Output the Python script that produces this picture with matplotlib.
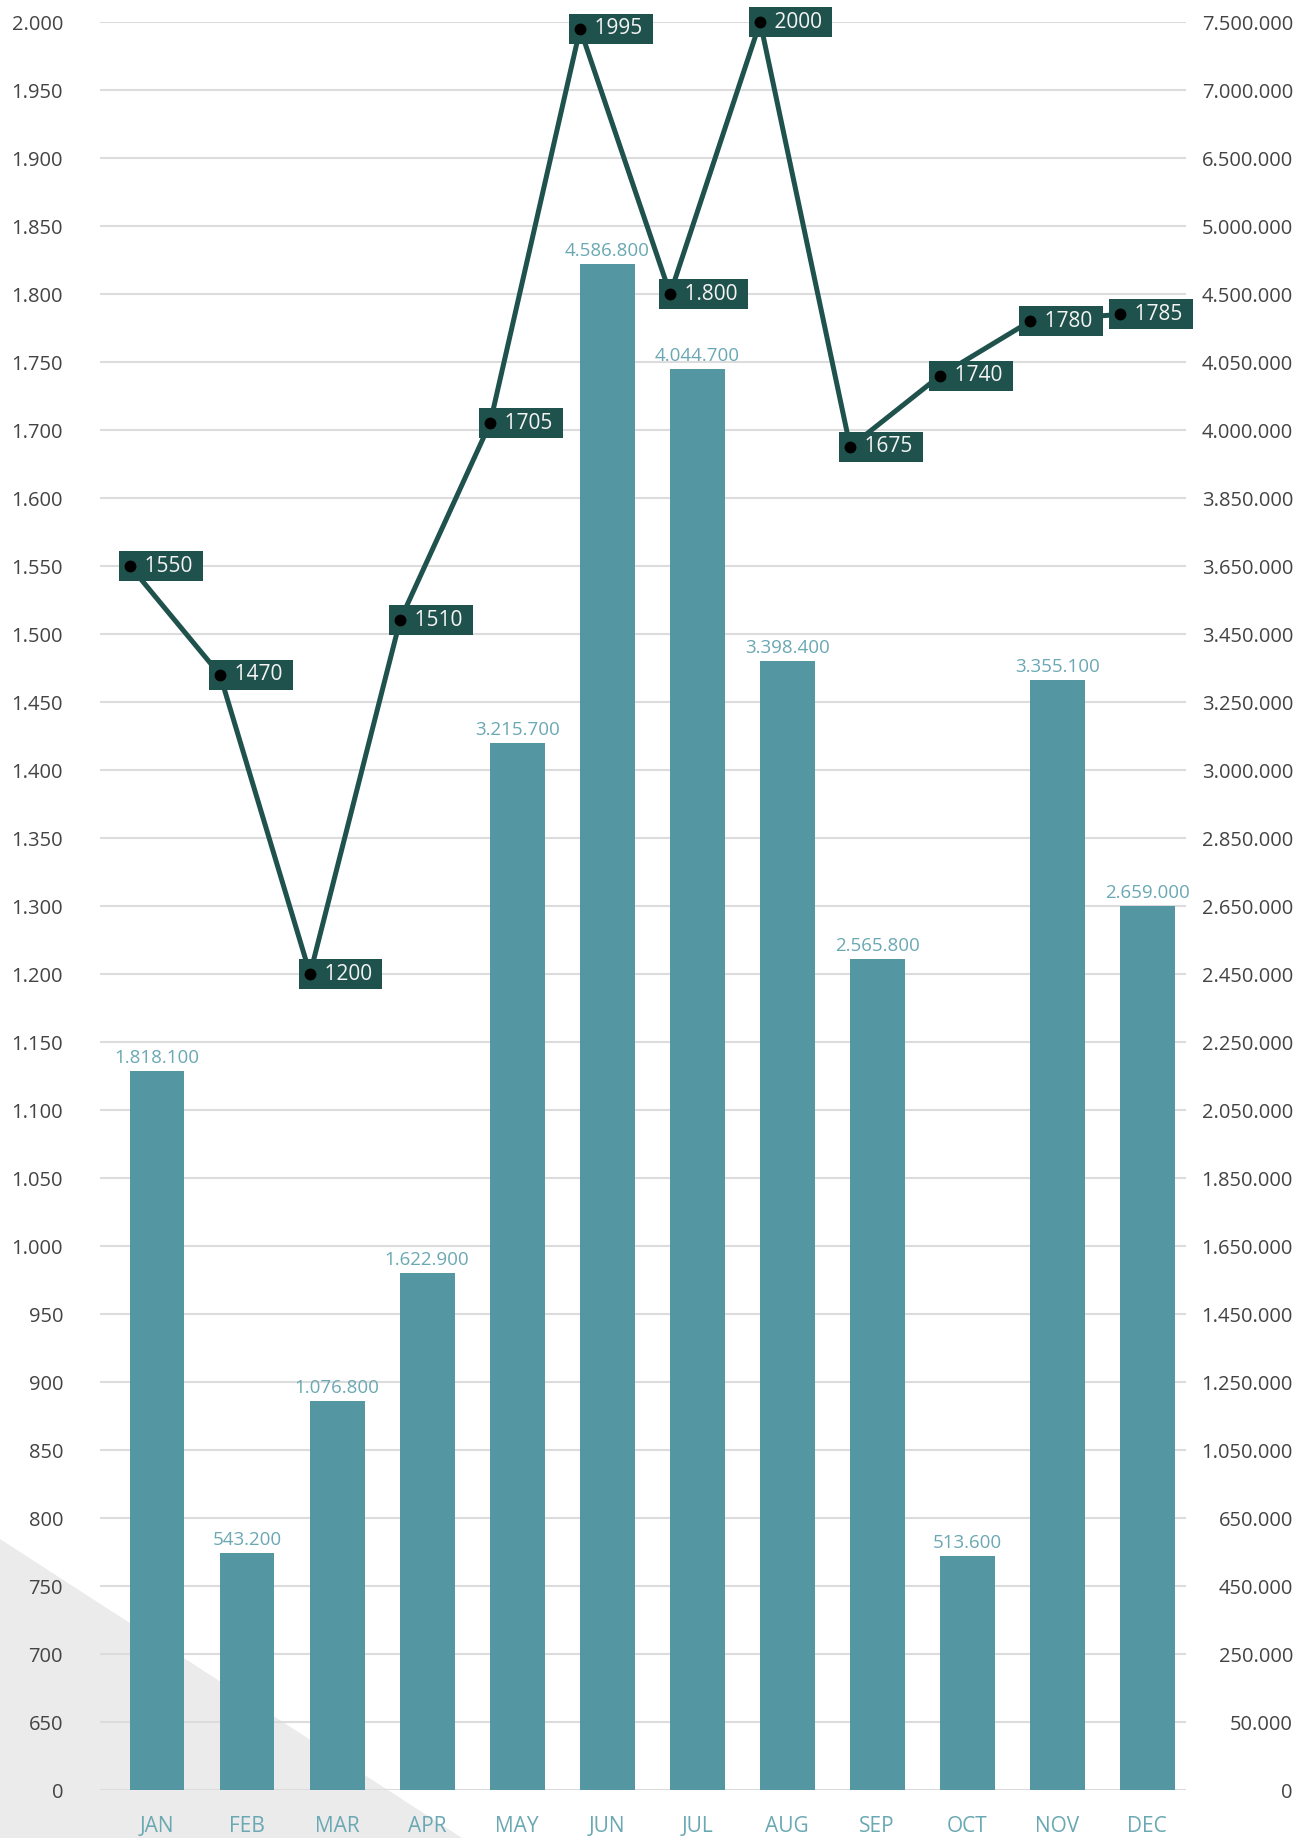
import numpy as np
import matplotlib
matplotlib.use('Agg')
import matplotlib.pyplot as plt
from matplotlib.patches import Polygon

# ── data ──
months = ["JAN", "FEB", "MAR", "APR", "MAY", "JUN",
          "JUL", "AUG", "SEP", "OCT", "NOV", "DEC"]

# line series (left axis)
units = [1550, 1470, 1200, 1510, 1705, 1995, 1800, 2000, 1675, 1740, 1780, 1785]
units_text = ["1550", "1470", "1200", "1510", "1705", "1995",
              "1.800", "2000", "1675", "1740", "1780", "1785"]

# bar series (right axis): printed values and heights as read on the right axis
revenue_text = ["1.818.100", "543.200", "1.076.800", "1.622.900", "3.215.700", "4.586.800",
                "4.044.700", "3.398.400", "2.565.800", "513.600", "3.355.100", "2.659.000"]
revenue_height = [2164000, 548000, 1194000, 1570000, 3100000, 4720000,
                  4045000, 3370000, 2494000, 538000, 3314000, 2650000]

# the two axes use equally spaced rows with these (uneven) tick values
left_ticks = [0, 650, 700, 750, 800, 850, 900, 950, 1000, 1050, 1100, 1150, 1200,
              1300, 1350, 1400, 1450, 1500, 1550, 1600, 1700, 1750, 1800, 1850,
              1900, 1950, 2000]
right_ticks = [0, 50000, 250000, 450000, 650000, 1050000, 1250000, 1450000, 1650000,
               1850000, 2050000, 2250000, 2450000, 2650000, 2850000, 3000000, 3250000,
               3450000, 3650000, 3850000, 4000000, 4050000, 4500000, 5000000,
               6500000, 7000000, 7500000]

# ── colours ──
BAR = '#5497a2'
BAR_TXT = '#6aa8b3'
LINE = '#1f524c'
TICK = '#444444'
GRID = '#dcdcdc'


def dotted(v):
    return f"{v:,}".replace(",", ".")


def row_scale(ticks):
    """piecewise-linear scale: every tick gets its own equally spaced row"""
    t = np.asarray(ticks, dtype=float)
    rows = np.arange(len(t), dtype=float)
    return (lambda v: np.interp(v, t, rows), lambda r: np.interp(r, rows, t))


plt.rcParams['font.family'] = ['Open Sans', 'DejaVu Sans']

fig = plt.figure(figsize=(13.08, 18.38), dpi=100)

# grey triangle in the lower-left corner
fig.add_artist(Polygon([[0, 0.1627], [0, 0], [0.3532, 0]], closed=True,
                       transform=fig.transFigure, facecolor='#ebebeb',
                       edgecolor='none', zorder=-1))

ax = fig.add_axes([100 / 1308, 48 / 1838, 1086 / 1308, 1768 / 1838])
axl = ax.twinx()
ax.patch.set_visible(False)

x = np.arange(len(months))

# ── bars (right axis) ──
ax.set_yscale('function', functions=row_scale(right_ticks))
ax.set_ylim(0, 7500000)
ax.set_xlim(-0.633, 11.43)
ax.bar(x, revenue_height, width=0.61, color=BAR, zorder=2)
for xi, h, t in zip(x, revenue_height, revenue_text):
    ax.annotate(t, (xi, h), xytext=(0, 3), textcoords='offset points',
                ha='center', va='bottom', fontsize=13.5, color=BAR_TXT, zorder=3)

ax.yaxis.tick_right()
ax.set_yticks(right_ticks, [dotted(v) for v in right_ticks], ha='right')
ax.tick_params(axis='y', length=0, pad=77, labelsize=14.5, labelcolor=TICK)
ax.set_xticks(x, months)
ax.tick_params(axis='x', length=0, pad=19, labelsize=15, labelcolor=BAR_TXT)
ax.grid(axis='y', color=GRID, linewidth=1.5)
ax.set_axisbelow(True)

# ── line (left axis) ──
axl.set_yscale('function', functions=row_scale(left_ticks))
axl.set_ylim(0, 2000)
axl.yaxis.tick_left()
axl.set_yticks(left_ticks, [dotted(v) for v in left_ticks])
axl.tick_params(axis='y', length=0, pad=26.6, labelsize=14.5, labelcolor=TICK)

lx = x - 0.3
axl.plot(lx, units, color=LINE, linewidth=3.6, zorder=3, clip_on=False)
axl.plot(lx, units, 'o', color='black', markersize=7.5, zorder=6, clip_on=False)
for xi, v, t in zip(lx, units, units_text):
    axl.annotate("    " + t + " ", (xi, v), xytext=(-4.9, 0), textcoords='offset points',
                 ha='left', va='center', fontsize=15, color='#f4f4f4',
                 bbox=dict(boxstyle='square,pad=0.22', facecolor=LINE, edgecolor='none'),
                 zorder=5, annotation_clip=False)

for a in (ax, axl):
    for s in a.spines.values():
        s.set_visible(False)

fig.savefig('out.png', dpi=100)
